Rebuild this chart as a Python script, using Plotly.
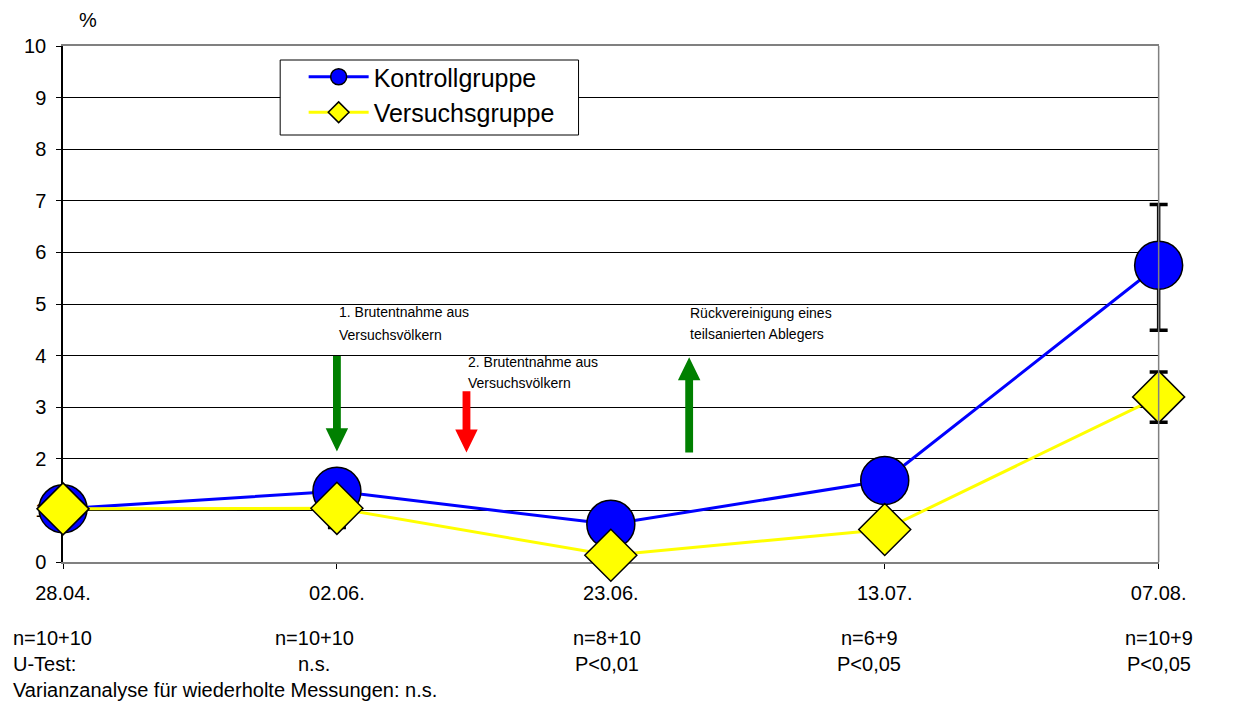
import plotly.graph_objects as go

# ---------------- data ----------------
dates = ["28.04.", "02.06.", "23.06.", "13.07.", "07.08."]
xpos = [0, 1, 2, 3, 4]
kontroll = [1.03, 1.37, 0.73, 1.58, 5.75]
kontroll_err_plus = [0.3, 0.3, 0.3, 0.3, 1.18]
kontroll_err_minus = [0.3, 0.7, 0.3, 0.3, 1.26]
versuch = [1.03, 1.04, 0.13, 0.63, 3.2]
versuch_err_plus = [0.3, 0.3, 0.1, 0.3, 0.48]
versuch_err_minus = [0.3, 0.3, 0.1, 0.3, 0.49]

n_labels = ["n=10+10", "n=10+10", "n=8+10", "n=6+9", "n=10+9"]
test_labels = ["U-Test:", "n.s.", "P<0,01", "P<0,05", "P<0,05"]
footer = "Varianzanalyse für wiederholte Messungen: n.s."

# arrows: x position, start value, end (tip) value, colour
arrow_x = [1.0, 1.473, 2.286]
arrow_from = [3.99, 3.31, 2.12]
arrow_to = [2.14, 2.12, 3.97]
arrow_color = ["#008000", "#FF0000", "#008000"]

# arrow notes: text line, x, y
notes = [
    ("1. Brutentnahme aus", 1.0, 4.84),
    ("Versuchsvölkern", 1.0, 4.40),
    ("2. Brutentnahme aus", 1.473, 3.88),
    ("Versuchsvölkern", 1.473, 3.46),
    ("Rückvereinigung eines", 2.283, 4.83),
    ("teilsanierten Ablegers", 2.283, 4.42),
]

FONT = "Liberation Sans, Arial, sans-serif"

# geometry (page content is offset by the 8px default body margin)
PLOT_W = 1150          # full trace area width
MAIN_W = 1120          # category axis width
PLOT_H = 516
DOM = MAIN_W / PLOT_W
X2_MAX = 4 * PLOT_W / MAIN_W

fig = go.Figure()
fig.add_trace(go.Scatter(
    x=xpos, y=kontroll, name="Kontrollgruppe", mode="lines+markers",
    xaxis="x2", yaxis="y2",
    line=dict(color="#0000FF", width=3),
    marker=dict(symbol="circle", size=48, color="#0000FF",
                line=dict(color="black", width=1.5)),
    error_y=dict(type="data", array=kontroll_err_plus,
                 arrayminus=kontroll_err_minus, color="black",
                 thickness=3.5, width=9),
    cliponaxis=False, legendgroup="a",
))
fig.add_trace(go.Scatter(
    x=xpos, y=versuch, name="Versuchsgruppe", mode="lines+markers",
    xaxis="x2", yaxis="y2",
    line=dict(color="#FFFF00", width=3),
    marker=dict(symbol="diamond", size=40, color="#FFFF00",
                line=dict(color="black", width=1.5)),
    error_y=dict(type="data", array=versuch_err_plus,
                 arrayminus=versuch_err_minus, color="black",
                 thickness=3.5, width=9),
    cliponaxis=False, legendgroup="b",
))

shapes = []
# legend frame
shapes.append(dict(type="rect", xref="paper", yref="paper",
                   x0=(285 - 63) / PLOT_W, x1=(590 - 63) / PLOT_W,
                   y0=(562 - 135) / PLOT_H, y1=(562 - 60) / PLOT_H,
                   fillcolor="white", line=dict(color="black", width=1),
                   layer="above"))
hl, sw, hw = 0.45, 0.0143, 0.041
for x, y0, y1, c in zip(arrow_x, arrow_from, arrow_to, arrow_color):
    d = 1 if y1 > y0 else -1
    yb = y1 - d * hl
    pts = [(x - sw, y0), (x - sw, yb), (x - hw, yb), (x, y1),
           (x + hw, yb), (x + sw, yb), (x + sw, y0)]
    path = "M " + " L ".join(f"{px},{py}" for px, py in pts) + " Z"
    shapes.append(dict(type="path", path=path, xref="x", yref="y",
                       fillcolor=c, line=dict(width=0), layer="above"))
# right border of plot area
shapes.append(dict(type="line", xref="x domain", yref="y domain", x0=1, x1=1,
                   y0=0, y1=1, line=dict(color="#808080", width=1.5)))

annotations = []
for t, x, y in notes:
    annotations.append(dict(text=t, x=x, y=y, xref="x", yref="y",
                            xanchor="left", yanchor="middle", showarrow=False,
                            font=dict(family=FONT, size=14, color="black")))
annotations.append(dict(text="%", x=(88.7 - 63) / PLOT_W, y=1.05, xref="paper",
                        yref="paper", xanchor="center", yanchor="middle",
                        showarrow=False,
                        font=dict(family=FONT, size=20, color="black")))

BOT = 20
col_x = [None, 0.918, 1.986, 2.943, 4.0]
row_y = [(562 - 637.5) / PLOT_H, (562 - 664) / PLOT_H]
left_x = (10 - 63) / PLOT_W
for i in range(5):
    for j, lab in enumerate([n_labels[i], test_labels[i]]):
        if i == 0:
            annotations.append(dict(text=lab, x=left_x, y=row_y[j], xref="paper",
                                    yref="paper", xanchor="left", yanchor="middle",
                                    showarrow=False,
                                    font=dict(family=FONT, size=BOT, color="black")))
        else:
            annotations.append(dict(text=lab, x=col_x[i], y=row_y[j], xref="x",
                                    yref="paper", xanchor="center", yanchor="middle",
                                    showarrow=False,
                                    font=dict(family=FONT, size=BOT, color="black")))
annotations.append(dict(text=footer, x=left_x, y=(562 - 690) / PLOT_H, xref="paper",
                        yref="paper", xanchor="left", yanchor="middle",
                        showarrow=False,
                        font=dict(family=FONT, size=BOT, color="black")))

fig.update_layout(
    width=1220, height=694,
    margin=dict(l=55, r=15, t=38, b=140),
    paper_bgcolor="white", plot_bgcolor="rgba(0,0,0,0)",
    font=dict(family=FONT, color="black"),
    shapes=shapes, annotations=annotations,
    legend=dict(x=(309 - 63) / PLOT_W, y=(562 - 54) / PLOT_H,
                xanchor="left", yanchor="top",
                bgcolor="rgba(0,0,0,0)", borderwidth=0,
                font=dict(family=FONT, size=25, color="black"),
                itemwidth=60, tracegroupgap=0),
    xaxis=dict(domain=[0, DOM], range=[0, 4], tickvals=xpos, ticktext=dates,
               ticks="outside", ticklen=5, tickcolor="black",
               showline=True, linecolor="#808080", linewidth=1.5, mirror=True,
               showgrid=False, zeroline=False,
               tickfont=dict(family=FONT, size=20, color="black"),
               ticklabelstandoff=7),
    yaxis=dict(range=[0, 10], dtick=1, ticks="outside", ticklen=5,
               tickcolor="black", showline=True, linecolor="black", linewidth=1.5,
               showgrid=True, gridcolor="black", gridwidth=1, zeroline=False,
               tickfont=dict(family=FONT, size=20, color="black"),
               ticklabelstandoff=6),
    xaxis2=dict(domain=[0, 1], range=[0, X2_MAX], anchor="y2", visible=False),
    yaxis2=dict(domain=[0, 1], range=[0, 10], anchor="x2", visible=False),
)

fig.write_html("out.html")
